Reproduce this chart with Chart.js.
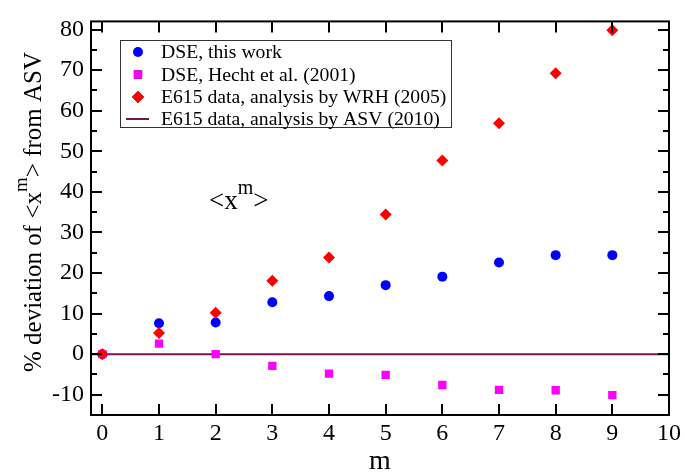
<!DOCTYPE html>
<html>
<head>
<meta charset="utf-8">
<script src="https://cdn.jsdelivr.net/npm/chart.js@4/dist/chart.umd.min.js"></script>
<style>
  html, body { margin: 0; padding: 0; background: #fff; }
  #wrap { width: 685px; height: 474px; }
</style>
</head>
<body>
<div id="wrap"><canvas id="chart" width="685" height="474"></canvas></div>
<script>
// moments m = 0..9
const moments = [0, 1, 2, 3, 4, 5, 6, 7, 8, 9];
const dseThisWork = [0, 7.6, 7.8, 12.8, 14.3, 17.0, 19.1, 22.6, 24.4, 24.4];
const dseHecht = [0, 2.6, 0, -2.9, -4.8, -5.1, -7.6, -8.8, -8.9, -10.1];
const e615Wrh = [0, 5.2, 10.2, 18.1, 23.8, 34.4, 47.7, 56.9, 69.2, 79.8];
const e615Asv = 0; // reference: zero deviation everywhere

const xRange = [-0.2, 10];
const yRange = [-15, 82];
const xTicks = [0, 1, 2, 3, 4, 5, 6, 7, 8, 9, 10];
const yTicks = [-10, 0, 10, 20, 30, 40, 50, 60, 70, 80];
const yMinorTicks = [-5, 5, 15, 25, 35, 45, 55, 65, 75];

const legendLabels = [
    'DSE, this work',
    'DSE, Hecht et al. (2001)',
    'E615 data, analysis by WRH (2005)',
    'E615 data, analysis by ASV (2010)'
];

const SERIF = '"Liberation Serif", "Times New Roman", serif';
const MAROON = '#741450';

const toPoints = (ys) => moments.map((m, i) => ({ x: m, y: ys[i] }));

// frame, inward ticks, titles, annotation and legend box
const decorations = {
    id: 'decorations',
    afterDraw(chart) {
        const ctx = chart.ctx;
        const area = chart.chartArea;
        const xs = chart.scales.x;
        const ys = chart.scales.y;
        ctx.save();

        // frame
        ctx.strokeStyle = '#000';
        ctx.lineWidth = 2;
        ctx.strokeRect(area.left, area.top, area.right - area.left, area.bottom - area.top);

        // ticks pointing inward on all four sides
        ctx.beginPath();
        xTicks.forEach(v => {
            const px = Math.round(xs.getPixelForValue(v));
            ctx.moveTo(px, area.bottom); ctx.lineTo(px, area.bottom - 11);
            ctx.moveTo(px, area.top); ctx.lineTo(px, area.top + 11);
        });
        yTicks.forEach(v => {
            const py = Math.round(ys.getPixelForValue(v));
            ctx.moveTo(area.left, py); ctx.lineTo(area.left + 11, py);
            ctx.moveTo(area.right, py); ctx.lineTo(area.right - 11, py);
        });
        yMinorTicks.forEach(v => {
            const py = Math.round(ys.getPixelForValue(v));
            ctx.moveTo(area.left, py); ctx.lineTo(area.left + 6, py);
            ctx.moveTo(area.right, py); ctx.lineTo(area.right - 6, py);
        });
        ctx.stroke();

        ctx.fillStyle = '#000';
        ctx.textBaseline = 'alphabetic';

        // x axis title
        ctx.font = '28px ' + SERIF;
        ctx.textAlign = 'center';
        ctx.fillText('m', (area.left + area.right) / 2, 469);

        // y axis title, with superscript m
        const big = '25px ' + SERIF;
        const small = '19px ' + SERIF;
        const parts = [
            { t: '% deviation of <x', f: big, dy: 0 },
            { t: 'm', f: small, dy: -14 },
            { t: '> from ASV', f: big, dy: 0 }
        ];
        let total = 0;
        parts.forEach(p => { ctx.font = p.f; p.w = ctx.measureText(p.t).width; total += p.w; });
        ctx.save();
        ctx.translate(41, 212);
        ctx.rotate(-Math.PI / 2);
        ctx.textAlign = 'left';
        let cx = -total / 2;
        parts.forEach(p => { ctx.font = p.f; ctx.fillText(p.t, cx, p.dy); cx += p.w; });
        ctx.restore();

        // <x^m> annotation
        ctx.textAlign = 'left';
        ctx.font = '27px ' + SERIF;
        ctx.fillText('<x', 209, 209);
        let ax = 209 + ctx.measureText('<x').width;
        ctx.font = '20px ' + SERIF;
        ctx.fillText('m', ax, 194);
        ax += ctx.measureText('m').width;
        ctx.font = '27px ' + SERIF;
        ctx.fillText('>', ax, 209);

        // legend box
        const bx = 120, by = 40, bw = 331, bh = 87;
        ctx.fillStyle = '#fff';
        ctx.fillRect(bx, by, bw, bh);
        ctx.strokeStyle = '#333';
        ctx.lineWidth = 1;
        ctx.strokeRect(bx + 0.5, by + 0.5, bw, bh);

        const rowY = [52, 74.5, 97, 119];
        const mx = 138;
        chart.data.datasets.forEach((ds, i) => {
            const y = rowY[i];
            if (ds.showLine) {
                ctx.strokeStyle = ds.borderColor;
                ctx.lineWidth = 2;
                ctx.beginPath();
                ctx.moveTo(126, y); ctx.lineTo(149, y);
                ctx.stroke();
            } else {
                Chart.helpers.drawPoint(ctx, {
                    pointStyle: ds.pointStyle,
                    radius: ds.pointRadius,
                    rotation: 0,
                    borderWidth: 0
                }, mx, y);
                ctx.fillStyle = ds.backgroundColor;
                ctx.fill();
            }
            ctx.fillStyle = '#000';
            ctx.font = '19.7px ' + SERIF;
            ctx.textBaseline = 'middle';
            ctx.fillText(legendLabels[i], 161, y + 1);
        });
        ctx.restore();
    }
};

const tickFont = { family: SERIF, size: 24 };

new Chart(document.getElementById('chart'), {
    type: 'scatter',
    data: {
        datasets: [
            {
                label: legendLabels[0],
                data: toPoints(dseThisWork),
                pointStyle: 'circle',
                pointRadius: 5,
                backgroundColor: '#0000ff',
                borderColor: '#0000ff',
                borderWidth: 0,
                order: 4
            },
            {
                label: legendLabels[1],
                data: toPoints(dseHecht),
                pointStyle: 'rect',
                pointRadius: 5.9,
                backgroundColor: '#ff00ff',
                borderColor: '#ff00ff',
                borderWidth: 0,
                order: 3
            },
            {
                label: legendLabels[2],
                data: toPoints(e615Wrh),
                pointStyle: 'rectRot',
                pointRadius: 6,
                backgroundColor: '#ff0000',
                borderColor: '#ff0000',
                borderWidth: 0,
                order: 2
            },
            {
                label: legendLabels[3],
                type: 'line',
                data: xRange.map(x => ({ x: x, y: e615Asv })),
                showLine: true,
                pointRadius: 0,
                borderColor: MAROON,
                backgroundColor: MAROON,
                borderWidth: 2,
                order: 5
            }
        ]
    },
    options: {
        responsive: false,
        animation: false,
        events: [],
        layout: { padding: { top: 10, right: 14, left: 0, bottom: 0 } },
        plugins: {
            legend: { display: false },
            tooltip: { enabled: false },
            title: { display: false }
        },
        scales: {
            x: {
                type: 'linear',
                min: xRange[0],
                max: xRange[1],
                afterFit: (scale) => { scale.height = 59; },
                grid: { display: false, drawTicks: false, tickLength: 0 },
                border: { display: false },
                ticks: {
                    stepSize: 1,
                    includeBounds: false,
                    maxRotation: 0,
                    autoSkip: false,
                    padding: 4,
                    color: '#000',
                    font: tickFont
                }
            },
            y: {
                type: 'linear',
                min: yRange[0],
                max: yRange[1],
                afterFit: (scale) => { scale.width = 91; },
                grid: { display: false, drawTicks: false, tickLength: 0 },
                border: { display: false },
                ticks: {
                    stepSize: 10,
                    includeBounds: false,
                    autoSkip: false,
                    padding: 7,
                    color: '#000',
                    font: tickFont
                }
            }
        }
    },
    plugins: [decorations]
});
</script>
</body>
</html>
